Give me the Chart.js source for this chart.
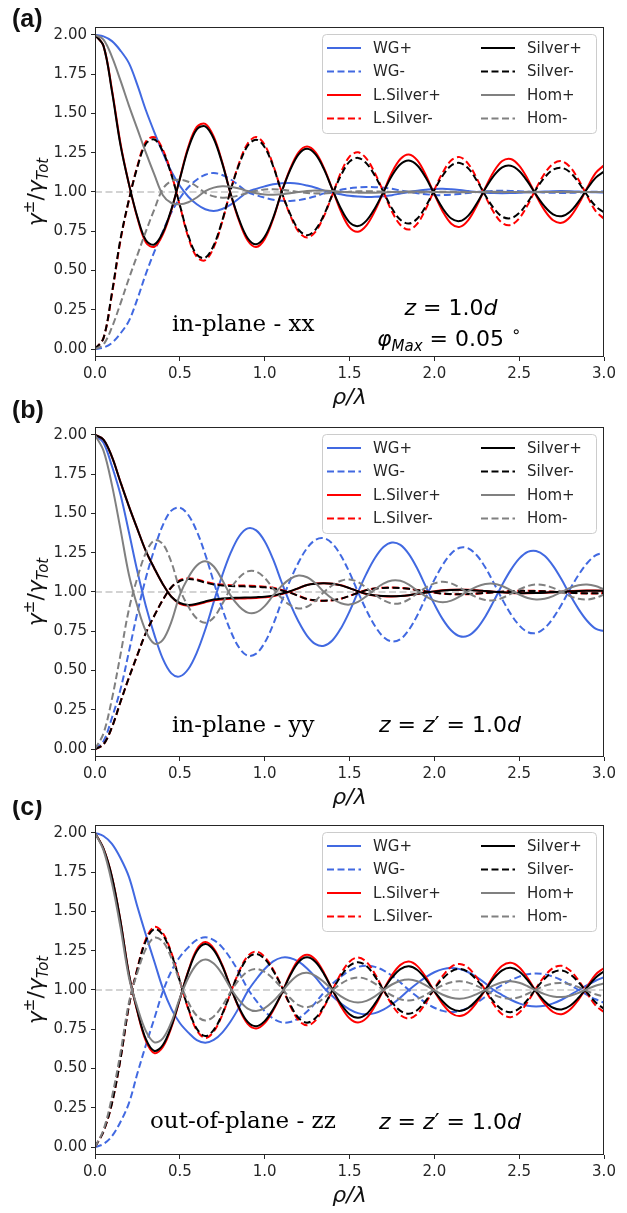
<!DOCTYPE html>
<html>
<head>
<meta charset="utf-8">
<script src="https://cdn.jsdelivr.net/npm/chart.js@4.4.1/dist/chart.umd.min.js"></script>
<style>
  html, body { margin: 0; padding: 0; background: #fff; }
  body { width: 627px; height: 1213px; position: relative; overflow: hidden; }
  .panel { position: absolute; left: 0; width: 627px; }
</style>
</head>
<body>
<div class="panel" style="top:0px"><canvas id="chartA" width="627" height="415"></canvas></div>
<div class="panel" style="top:400px"><canvas id="chartB" width="627" height="415"></canvas></div>
<div class="panel" style="top:800px"><canvas id="chartC" width="627" height="413"></canvas></div>
<script>
// rho / lambda sample positions shared by every curve
const rho = [0, 0.05, 0.1, 0.15, 0.2, 0.25, 0.3, 0.35, 0.4, 0.45, 0.5, 0.55, 0.6, 0.65, 0.7, 0.75, 0.8, 0.85, 0.9, 0.95,
  1, 1.05, 1.1, 1.15, 1.2, 1.25, 1.3, 1.35, 1.4, 1.45, 1.5, 1.55, 1.6, 1.65, 1.7, 1.75, 1.8, 1.85, 1.9, 1.95,
  2, 2.05, 2.1, 2.15, 2.2, 2.25, 2.3, 2.35, 2.4, 2.45, 2.5, 2.55, 2.6, 2.65, 2.7, 2.75, 2.8, 2.85, 2.9, 2.95, 3];

const seriesNames = ['WG+', 'WG-', 'L.Silver+', 'L.Silver-', 'Silver+', 'Silver-', 'Hom+', 'Hom-'];
const seriesColors = ['#4169e1', '#4169e1', '#ff0000', '#ff0000', '#000000', '#000000', '#808080', '#808080'];
const seriesDashed = [false, true, false, true, false, true, false, true];

const xTicks = [0, 0.5, 1, 1.5, 2, 2.5, 3];
const yTicks = [0, 0.25, 0.5, 0.75, 1, 1.25, 1.5, 1.75, 2];

// (a) in-plane xx
const wgPlusA = [2.00, 1.99, 1.96, 1.90, 1.82, 1.68, 1.52, 1.38, 1.25, 1.13,
  1.04, 0.97, 0.922, 0.89, 0.879, 0.892, 0.92, 0.96, 1.00, 1.02,
  1.036, 1.049, 1.056, 1.057, 1.052, 1.041, 1.027, 1.009, 0.995, 0.985,
  0.976, 0.971, 0.968, 0.969, 0.973, 0.98, 0.99, 1.0, 1.008, 1.014,
  1.019, 1.02, 1.017, 1.012, 1.006, 1.0, 0.996, 0.993, 0.992, 0.993,
  0.995, 0.998, 1.0, 1.003, 1.005, 1.006, 1.005, 1.003, 1.0, 0.998, 0.997];
const wgMinusA = [0.00, 0.01, 0.04, 0.10, 0.18, 0.32, 0.48, 0.62, 0.75, 0.87,
  0.96, 1.03, 1.078, 1.11, 1.121, 1.108, 1.08, 1.04, 1.00, 0.98,
  0.964, 0.951, 0.944, 0.943, 0.948, 0.959, 0.973, 0.991, 1.005, 1.015,
  1.024, 1.029, 1.032, 1.031, 1.027, 1.02, 1.01, 1.0, 0.992, 0.986,
  0.981, 0.98, 0.983, 0.988, 0.994, 1.0, 1.004, 1.007, 1.008, 1.007,
  1.005, 1.002, 1.0, 0.997, 0.995, 0.994, 0.995, 0.997, 1.0, 1.002, 1.003];
const lSilverPlusA = [2.00, 1.93, 1.65, 1.31, 1.05, 0.834, 0.679, 0.651, 0.731, 0.884,
  1.086, 1.288, 1.414, 1.434, 1.352, 1.189, 0.986, 0.814, 0.691, 0.650,
  0.700, 0.828, 1.0, 1.147, 1.253, 1.290, 1.252, 1.152, 1.015, 0.875,
  0.775, 0.747, 0.788, 0.880, 1.0, 1.124, 1.210, 1.239, 1.201, 1.107,
  0.986, 0.875, 0.798, 0.778, 0.821, 0.913, 1.026, 1.129, 1.197, 1.210,
  1.168, 1.083, 0.977, 0.883, 0.820, 0.804, 0.841, 0.922, 1.025, 1.12, 1.17];
const lSilverMinusA = [0.00, 0.07, 0.35, 0.69, 0.95, 1.166, 1.321, 1.349, 1.269, 1.116,
  0.914, 0.712, 0.586, 0.566, 0.648, 0.811, 1.014, 1.186, 1.309, 1.350,
  1.300, 1.172, 1.0, 0.853, 0.747, 0.710, 0.748, 0.848, 0.985, 1.125,
  1.225, 1.253, 1.212, 1.120, 1.0, 0.876, 0.790, 0.761, 0.799, 0.893,
  1.014, 1.125, 1.202, 1.222, 1.179, 1.087, 0.974, 0.871, 0.803, 0.790,
  0.832, 0.917, 1.023, 1.117, 1.180, 1.196, 1.159, 1.078, 0.975, 0.88, 0.83];
const silverPlusA = [2.00, 1.93, 1.64, 1.30, 1.05, 0.841, 0.693, 0.666, 0.742, 0.889,
  1.083, 1.277, 1.399, 1.418, 1.339, 1.182, 0.987, 0.823, 0.706, 0.667,
  0.715, 0.836, 1.0, 1.139, 1.240, 1.275, 1.239, 1.144, 1.014, 0.893,
  0.807, 0.783, 0.818, 0.897, 1.0, 1.104, 1.177, 1.201, 1.169, 1.090,
  0.988, 0.895, 0.831, 0.815, 0.850, 0.927, 1.021, 1.103, 1.157, 1.167,
  1.134, 1.066, 0.982, 0.908, 0.858, 0.846, 0.875, 0.939, 1.019, 1.09, 1.13];
const silverMinusA = [0.00, 0.07, 0.36, 0.70, 0.95, 1.159, 1.307, 1.334, 1.258, 1.111,
  0.917, 0.723, 0.601, 0.582, 0.661, 0.818, 1.013, 1.177, 1.294, 1.333,
  1.285, 1.164, 1.0, 0.861, 0.760, 0.725, 0.761, 0.856, 0.986, 1.107,
  1.193, 1.217, 1.182, 1.103, 1.0, 0.896, 0.823, 0.799, 0.831, 0.910,
  1.012, 1.105, 1.169, 1.185, 1.150, 1.073, 0.979, 0.897, 0.843, 0.833,
  0.866, 0.934, 1.018, 1.092, 1.142, 1.154, 1.125, 1.061, 0.981, 0.91, 0.87];
const homPlusA = [2.00, 1.97, 1.86, 1.71, 1.55, 1.40, 1.25, 1.11, 0.98, 0.93,
  0.922, 0.935, 0.965, 1.005, 1.028, 1.036, 1.033, 1.022, 1.006, 0.992,
  0.984, 0.982, 0.985, 0.992, 1.0, 1.006, 1.009, 1.009, 1.006, 1.002,
  0.998, 0.996, 0.995, 0.996, 0.998, 1.0, 1.002, 1.003, 1.003, 1.002,
  1.0, 0.998, 0.998, 0.998, 0.999, 1.0, 1.001, 1.001, 1.001, 1.0,
  1.0, 0.999, 0.999, 1.0, 1.0, 1.001, 1.001, 1.0, 1.0, 1.0, 1.0];
const homMinusA = [0.00, 0.03, 0.14, 0.29, 0.45, 0.60, 0.75, 0.89, 1.02, 1.07,
  1.078, 1.065, 1.035, 0.995, 0.972, 0.964, 0.967, 0.978, 0.994, 1.008,
  1.016, 1.018, 1.015, 1.008, 1.0, 0.994, 0.991, 0.991, 0.994, 0.998,
  1.002, 1.004, 1.005, 1.004, 1.002, 1.0, 0.998, 0.997, 0.997, 0.998,
  1.0, 1.002, 1.002, 1.002, 1.001, 1.0, 0.999, 0.999, 0.999, 1.0,
  1.0, 1.001, 1.001, 1.0, 1.0, 0.999, 0.999, 1.0, 1.0, 1.0, 1.0];

// (b) in-plane yy
const wgPlusB = [2.00, 1.95, 1.80, 1.62, 1.38, 1.13, 0.91, 0.727, 0.574, 0.482,
  0.463, 0.51, 0.614, 0.761, 0.937, 1.106, 1.25, 1.355, 1.405, 1.392,
  1.323, 1.207, 1.062, 0.926, 0.811, 0.721, 0.668, 0.658, 0.693, 0.77,
  0.876, 1.0, 1.117, 1.216, 1.286, 1.315, 1.30, 1.241, 1.148, 1.034,
  0.923, 0.826, 0.755, 0.718, 0.722, 0.766, 0.843, 0.942, 1.046, 1.139,
  1.212, 1.255, 1.261, 1.23, 1.166, 1.079, 0.981, 0.891, 0.817, 0.767, 0.751];
const wgMinusB = [0.00, 0.05, 0.20, 0.38, 0.62, 0.87, 1.09, 1.273, 1.426, 1.518,
  1.537, 1.49, 1.386, 1.239, 1.063, 0.894, 0.75, 0.645, 0.595, 0.608,
  0.677, 0.793, 0.938, 1.074, 1.189, 1.279, 1.332, 1.342, 1.307, 1.23,
  1.124, 1.0, 0.883, 0.784, 0.714, 0.685, 0.70, 0.759, 0.852, 0.966,
  1.077, 1.174, 1.245, 1.282, 1.278, 1.234, 1.157, 1.058, 0.954, 0.861,
  0.788, 0.745, 0.739, 0.77, 0.834, 0.921, 1.019, 1.109, 1.183, 1.233, 1.249];
const lSilverPlusB = [2.00, 1.97, 1.86, 1.70, 1.545, 1.40, 1.26, 1.15, 1.05, 0.97,
  0.925, 0.913, 0.92, 0.935, 0.947, 0.953, 0.957, 0.958, 0.96, 0.962,
  0.966, 0.973, 0.987, 1.003, 1.024, 1.045, 1.054, 1.056, 1.053, 1.043,
  1.025, 1.005, 0.987, 0.977, 0.973, 0.972, 0.974, 0.979, 0.987, 0.996,
  1.004, 1.011, 1.014, 1.015, 1.014, 1.011, 1.006, 1.002, 0.998, 0.994,
  0.992, 0.992, 0.993, 0.996, 0.999, 1.002, 1.005, 1.008, 1.009, 1.009, 1.008];
const lSilverMinusB = [0.00, 0.03, 0.14, 0.30, 0.455, 0.60, 0.74, 0.85, 0.95, 1.03,
  1.075, 1.087, 1.08, 1.065, 1.053, 1.047, 1.043, 1.042, 1.04, 1.038,
  1.034, 1.027, 1.013, 0.997, 0.976, 0.955, 0.946, 0.944, 0.947, 0.957,
  0.975, 0.995, 1.013, 1.023, 1.027, 1.028, 1.026, 1.021, 1.013, 1.004,
  0.996, 0.989, 0.986, 0.985, 0.986, 0.989, 0.994, 0.998, 1.002, 1.006,
  1.008, 1.008, 1.007, 1.004, 1.001, 0.998, 0.995, 0.992, 0.991, 0.991, 0.992];
const silverPlusB = [2.00, 1.97, 1.86, 1.70, 1.545, 1.40, 1.26, 1.15, 1.05, 0.97,
  0.93, 0.918, 0.925, 0.94, 0.952, 0.958, 0.962, 0.963, 0.965, 0.967,
  0.970, 0.977, 0.99, 1.005, 1.025, 1.045, 1.053, 1.055, 1.052, 1.042,
  1.025, 1.005, 0.988, 0.978, 0.974, 0.973, 0.975, 0.98, 0.988, 0.996,
  1.004, 1.01, 1.013, 1.014, 1.013, 1.01, 1.006, 1.002, 0.998, 0.995,
  0.993, 0.993, 0.994, 0.996, 0.999, 1.002, 1.005, 1.007, 1.008, 1.008, 1.007];
const silverMinusB = [0.00, 0.03, 0.14, 0.30, 0.455, 0.60, 0.74, 0.85, 0.95, 1.03,
  1.07, 1.082, 1.075, 1.06, 1.048, 1.042, 1.038, 1.037, 1.035, 1.033,
  1.030, 1.023, 1.01, 0.995, 0.975, 0.955, 0.947, 0.945, 0.948, 0.958,
  0.975, 0.995, 1.012, 1.022, 1.026, 1.027, 1.025, 1.02, 1.012, 1.004,
  0.996, 0.99, 0.987, 0.986, 0.987, 0.99, 0.994, 0.998, 1.002, 1.005,
  1.007, 1.007, 1.006, 1.004, 1.001, 0.998, 0.995, 0.993, 0.992, 0.992, 0.993];
const homPlusB = [2.00, 1.90, 1.68, 1.40, 1.11, 0.909, 0.75, 0.671, 0.695, 0.81,
  0.982, 1.093, 1.169, 1.196, 1.162, 1.076, 0.977, 0.908, 0.869, 0.87,
  0.91, 0.978, 1.039, 1.084, 1.105, 1.094, 1.055, 1.0, 0.957, 0.928,
  0.92, 0.937, 0.974, 1.017, 1.053, 1.073, 1.071, 1.047, 1.008, 0.972,
  0.945, 0.935, 0.945, 0.972, 1.006, 1.034, 1.051, 1.053, 1.038, 1.012,
  0.984, 0.962, 0.952, 0.957, 0.974, 1.0, 1.026, 1.043, 1.048, 1.038, 1.016];
const homMinusB = [0.00, 0.10, 0.32, 0.60, 0.89, 1.091, 1.25, 1.329, 1.305, 1.19,
  1.018, 0.907, 0.831, 0.804, 0.838, 0.924, 1.023, 1.092, 1.131, 1.13,
  1.09, 1.022, 0.961, 0.916, 0.895, 0.906, 0.945, 1.0, 1.043, 1.072,
  1.08, 1.063, 1.026, 0.983, 0.947, 0.927, 0.929, 0.953, 0.992, 1.028,
  1.055, 1.065, 1.055, 1.028, 0.994, 0.966, 0.949, 0.947, 0.962, 0.988,
  1.016, 1.038, 1.048, 1.043, 1.026, 1.0, 0.974, 0.957, 0.952, 0.962, 0.984];

// (c) out-of-plane zz
const wgPlusC = [2.00, 1.98, 1.93, 1.84, 1.72, 1.53, 1.35, 1.18, 1.01, 0.88,
  0.79, 0.729, 0.681, 0.665, 0.682, 0.729, 0.801, 0.891, 0.992, 1.068,
  1.134, 1.182, 1.206, 1.204, 1.18, 1.137, 1.08, 1.014, 0.96, 0.914,
  0.877, 0.853, 0.845, 0.853, 0.875, 0.909, 0.952, 1.0, 1.043, 1.082,
  1.113, 1.133, 1.14, 1.133, 1.113, 1.082, 1.043, 1.0, 0.968, 0.938,
  0.915, 0.9, 0.895, 0.9, 0.915, 0.938, 0.968, 1.0, 1.031, 1.059, 1.081];
const wgMinusC = [0.00, 0.02, 0.07, 0.16, 0.28, 0.47, 0.65, 0.82, 0.99, 1.12,
  1.21, 1.271, 1.319, 1.335, 1.318, 1.271, 1.199, 1.109, 1.008, 0.932,
  0.866, 0.818, 0.794, 0.796, 0.82, 0.863, 0.92, 0.986, 1.04, 1.086,
  1.123, 1.147, 1.155, 1.147, 1.125, 1.091, 1.048, 1.0, 0.957, 0.918,
  0.887, 0.867, 0.86, 0.867, 0.887, 0.918, 0.957, 1.0, 1.032, 1.062,
  1.085, 1.1, 1.105, 1.1, 1.085, 1.062, 1.032, 1.0, 0.969, 0.941, 0.919];
const lSilverPlusC = [2.00, 1.90, 1.72, 1.44, 1.10, 0.861, 0.676, 0.598, 0.637, 0.762,
  0.941, 1.122, 1.257, 1.305, 1.264, 1.159, 1.016, 0.88, 0.784, 0.755,
  0.789, 0.869, 0.977, 1.1, 1.193, 1.225, 1.193, 1.109, 1.0, 0.895,
  0.82, 0.793, 0.821, 0.898, 1.0, 1.094, 1.16, 1.181, 1.152, 1.082,
  0.991, 0.909, 0.852, 0.834, 0.859, 0.921, 1.0, 1.091, 1.154, 1.173,
  1.145, 1.076, 0.989, 0.912, 0.86, 0.846, 0.876, 0.939, 1.02, 1.098, 1.14];
const lSilverMinusC = [0.00, 0.10, 0.28, 0.56, 0.90, 1.139, 1.324, 1.402, 1.363, 1.238,
  1.059, 0.878, 0.743, 0.695, 0.736, 0.841, 0.984, 1.12, 1.216, 1.245,
  1.211, 1.131, 1.023, 0.90, 0.807, 0.775, 0.807, 0.891, 1.0, 1.105,
  1.18, 1.207, 1.179, 1.102, 1.0, 0.906, 0.84, 0.819, 0.848, 0.918,
  1.009, 1.091, 1.148, 1.166, 1.141, 1.079, 1.0, 0.909, 0.846, 0.827,
  0.855, 0.924, 1.011, 1.088, 1.14, 1.154, 1.124, 1.061, 0.98, 0.902, 0.86];
const silverPlusC = [2.00, 1.90, 1.72, 1.44, 1.10, 0.866, 0.687, 0.612, 0.65, 0.77,
  0.943, 1.117, 1.247, 1.293, 1.254, 1.153, 1.015, 0.887, 0.797, 0.77,
  0.802, 0.877, 0.978, 1.092, 1.178, 1.208, 1.178, 1.101, 1.0, 0.91,
  0.846, 0.823, 0.847, 0.913, 1.0, 1.078, 1.133, 1.151, 1.127, 1.068,
  0.992, 0.927, 0.881, 0.866, 0.886, 0.936, 1.0, 1.074, 1.125, 1.141,
  1.118, 1.062, 0.991, 0.929, 0.887, 0.876, 0.90, 0.951, 1.016, 1.078, 1.119];
const silverMinusC = [0.00, 0.10, 0.28, 0.56, 0.90, 1.134, 1.313, 1.388, 1.35, 1.23,
  1.057, 0.883, 0.753, 0.707, 0.746, 0.847, 0.985, 1.113, 1.203, 1.23,
  1.198, 1.123, 1.022, 0.908, 0.822, 0.792, 0.822, 0.899, 1.0, 1.09,
  1.154, 1.177, 1.153, 1.087, 1.0, 0.922, 0.867, 0.849, 0.873, 0.932,
  1.008, 1.073, 1.119, 1.134, 1.114, 1.064, 1.0, 0.926, 0.875, 0.859,
  0.882, 0.938, 1.009, 1.071, 1.113, 1.124, 1.10, 1.049, 0.984, 0.922, 0.881];
const homPlusC = [2.00, 1.89, 1.68, 1.40, 1.08, 0.889, 0.738, 0.667, 0.692, 0.795,
  0.949, 1.078, 1.164, 1.194, 1.168, 1.101, 1.01, 0.934, 0.882, 0.866,
  0.885, 0.928, 0.987, 1.051, 1.097, 1.109, 1.09, 1.05, 1.0, 0.96,
  0.931, 0.92, 0.931, 0.96, 1.0, 1.035, 1.059, 1.067, 1.056, 1.03,
  0.997, 0.97, 0.951, 0.945, 0.953, 0.974, 1.0, 1.029, 1.049, 1.055,
  1.046, 1.024, 0.997, 0.974, 0.959, 0.955, 0.964, 0.982, 1.006, 1.027, 1.041];
const homMinusC = [0.00, 0.11, 0.32, 0.60, 0.92, 1.111, 1.262, 1.333, 1.308, 1.205,
  1.051, 0.922, 0.836, 0.806, 0.832, 0.899, 0.99, 1.066, 1.118, 1.134,
  1.115, 1.072, 1.013, 0.949, 0.903, 0.891, 0.91, 0.95, 1.0, 1.04,
  1.069, 1.08, 1.069, 1.04, 1.0, 0.965, 0.941, 0.933, 0.944, 0.97,
  1.003, 1.03, 1.049, 1.055, 1.047, 1.026, 1.0, 0.971, 0.951, 0.945,
  0.954, 0.976, 1.003, 1.026, 1.041, 1.045, 1.036, 1.018, 0.994, 0.973, 0.959];

const DASH = [7, 3.5];
const INK = '#262626';
const SANS = '"DejaVu Sans"';
const SERIF = '"DejaVu Serif"';

function font(size, italic, family) {
  return (italic ? 'italic ' : '') + size + 'px ' + (family || SANS);
}

// draw a row of text pieces with their own fonts and vertical offsets
function drawRuns(ctx, runs, x, y, align) {
  let total = 0;
  runs.forEach(r => { ctx.font = r[1]; r.w = ctx.measureText(r[0]).width; total += r.w; });
  let cx = align === 'center' ? x - total / 2 : x;
  ctx.textAlign = 'left';
  ctx.textBaseline = 'alphabetic';
  runs.forEach(r => {
    ctx.font = r[1];
    ctx.fillText(r[0], cx, y + (r[2] || 0));
    cx += r.w;
  });
}

const zPrimeRuns = () => [['z', font(22, true)], [' = ', font(22)], ['z', font(22, true)], ['\u2032', font(22)],
  [' = 1.0', font(22)], ['d', font(22, true)]];

const panelCfgs = [
  {
    canvas: 'chartA', tag: '(a)', tagY: 20, padTop: 27, xAxisH: 58,
    series: [wgPlusA, wgMinusA, lSilverPlusA, lSilverMinusA, silverPlusA, silverMinusA, homPlusA, homMinusA],
    notes: [
      { x: 172, y: 331, align: 'left', runs: [['in-plane - xx', font(23, false, SERIF)]] },
      { x: 451, y: 315, align: 'center', runs: [['z', font(22, true)], [' = 1.0', font(22)], ['d', font(22, true)]] },
      { x: 449, y: 346, align: 'center', runs: [['\u03c6', font(22, true)], ['Max', font(15, true), 5],
        [' = 0.05 ', font(22)], ['\u2218', font(16), -9]] }
    ]
  },
  {
    canvas: 'chartB', tag: '(b)', tagY: 11, padTop: 27, xAxisH: 58,
    series: [wgPlusB, wgMinusB, lSilverPlusB, lSilverMinusB, silverPlusB, silverMinusB, homPlusB, homMinusB],
    notes: [
      { x: 172, y: 332, align: 'left', runs: [['in-plane - yy', font(23, false, SERIF)]] },
      { x: 450, y: 332, align: 'center', runs: zPrimeRuns() }
    ]
  },
  {
    canvas: 'chartC', tag: '(c)', tagY: 8, padTop: 25, xAxisH: 58,
    series: [wgPlusC, wgMinusC, lSilverPlusC, lSilverMinusC, silverPlusC, silverMinusC, homPlusC, homMinusC],
    notes: [
      { x: 150, y: 328, align: 'left', runs: [['out-of-plane - zz', font(23, false, SERIF)]] },
      { x: 450, y: 329, align: 'center', runs: zPrimeRuns() }
    ]
  }
];

function decor(cfg) {
  return {
    id: 'decor',
    afterDatasetsDraw(chart) {
      const ctx = chart.ctx;
      const a = chart.chartArea;
      ctx.save();
      // axes frame
      ctx.strokeStyle = INK;
      ctx.lineWidth = 1;
      ctx.setLineDash([]);
      ctx.strokeRect(a.left + 0.5, a.top + 0.5, a.right - a.left - 1, a.bottom - a.top - 1);

      // two-column legend
      const bx = a.left + 227, by = a.top + 7, bw = 274, bh = 99;
      ctx.beginPath();
      ctx.roundRect(bx + 0.5, by + 0.5, bw, bh, 4);
      ctx.fillStyle = 'rgba(255,255,255,0.8)';
      ctx.fill();
      ctx.strokeStyle = '#cccccc';
      ctx.stroke();
      seriesNames.forEach((name, i) => {
        const col = Math.floor(i / 4), row = i % 4;
        const lx = bx + 5 + col * 154;
        const ly = a.top + 21 + row * 23.5;
        ctx.beginPath();
        ctx.setLineDash(seriesDashed[i] ? DASH : []);
        ctx.strokeStyle = seriesColors[i];
        ctx.lineWidth = 2;
        ctx.moveTo(lx, ly);
        ctx.lineTo(lx + 34, ly);
        ctx.stroke();
        ctx.setLineDash([]);
        ctx.fillStyle = INK;
        ctx.font = font(15);
        ctx.textAlign = 'left';
        ctx.textBaseline = 'middle';
        ctx.fillText(name, lx + 46, ly + 1);
      });

      // annotations inside the axes
      ctx.fillStyle = '#000';
      cfg.notes.forEach(n => drawRuns(ctx, n.runs, n.x, n.y, n.align));
      ctx.restore();
    },
    afterDraw(chart) {
      const ctx = chart.ctx;
      const a = chart.chartArea;
      ctx.save();
      ctx.fillStyle = '#111';
      // panel tag
      ctx.font = 'bold 25px "Liberation Sans"';
      ctx.textAlign = 'left';
      ctx.textBaseline = 'middle';
      ctx.fillText(cfg.tag, 12, cfg.tagY);
      // x title
      drawRuns(ctx, [['\u03c1/\u03bb', font(22, true)]], (a.left + a.right) / 2, a.bottom + 47, 'center');
      // y title, rotated
      ctx.translate(35, (a.top + a.bottom) / 2);
      ctx.rotate(-Math.PI / 2);
      drawRuns(ctx, [['\u03b3', font(22, true)], ['\u00b1', font(15), -9], ['/', font(22)],
        ['\u03b3', font(22, true)], ['Tot', font(15, true), 5]], 0, 8, 'center');
      ctx.restore();
    }
  };
}

function makeChart(cfg) {
  const datasets = cfg.series.map((vals, i) => ({
    label: seriesNames[i],
    data: rho.map((x, k) => ({ x: x, y: vals[k] })),
    borderColor: seriesColors[i],
    borderWidth: 2,
    borderDash: seriesDashed[i] ? DASH : [],
    pointRadius: 0,
    tension: 0.35,
    fill: false,
    order: seriesNames.length - i
  }));
  // light reference line at 1
  datasets.push({
    label: 'unity',
    data: [{ x: 0, y: 1 }, { x: 3, y: 1 }],
    borderColor: '#d3d3d3',
    borderWidth: 2,
    borderDash: DASH,
    pointRadius: 0,
    fill: false,
    order: 100
  });

  const tickFont = { family: 'DejaVu Sans', size: 15 };
  return new Chart(document.getElementById(cfg.canvas), {
    type: 'line',
    data: { datasets: datasets },
    options: {
      responsive: false,
      animation: false,
      events: [],
      layout: { padding: { top: cfg.padTop, right: 23, left: 0, bottom: 0 } },
      plugins: { legend: { display: false }, tooltip: { enabled: false } },
      scales: {
        x: {
          type: 'linear', min: 0, max: 3,
          afterBuildTicks: s => { s.ticks = xTicks.map(v => ({ value: v })); },
          afterFit: s => { s.height = cfg.xAxisH; },
          ticks: { callback: v => v.toFixed(1), font: tickFont, color: INK, padding: 4, maxRotation: 0, autoSkip: false },
          grid: { drawOnChartArea: false, tickLength: 4, color: INK },
          border: { display: false }
        },
        y: {
          type: 'linear', min: -0.05, max: 2.05,
          afterBuildTicks: s => { s.ticks = yTicks.map(v => ({ value: v })); },
          afterFit: s => { s.width = 95; },
          ticks: { callback: v => v.toFixed(2), font: tickFont, color: INK, padding: 4, autoSkip: false },
          grid: { drawOnChartArea: false, tickLength: 4, color: INK },
          border: { display: false }
        }
      }
    },
    plugins: [decor(cfg)]
  });
}

panelCfgs.forEach(makeChart);
</script>
</body>
</html>
